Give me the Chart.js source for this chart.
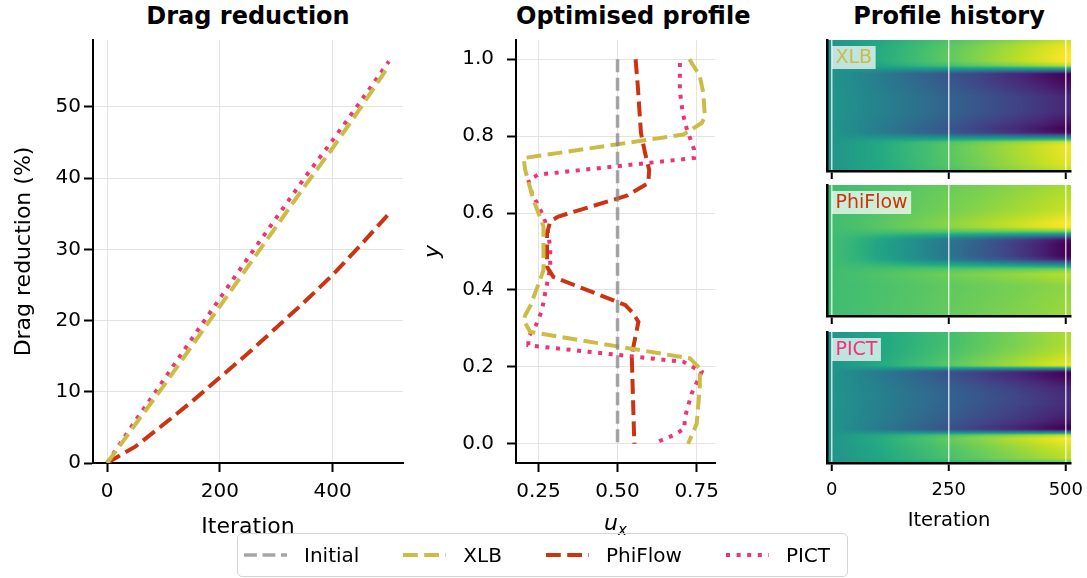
<!DOCTYPE html>
<html>
<head>
<meta charset="utf-8">
<title>Drag reduction and optimised inlet profile</title>
<script src="https://cdn.jsdelivr.net/npm/chart.js@4.4.1/dist/chart.umd.min.js"></script>
<style>
  body { margin: 0; background: #fff; font-family: "DejaVu Sans", sans-serif; color: #000; }
  #fig { position: relative; width: 1087px; height: 578px; overflow: hidden; }
  canvas { position: absolute; }
  .ptitle { position: absolute; top: 1px; font-size: 24px; font-weight: bold; text-align: center; line-height: 30px; white-space: nowrap; }
  #uxLabel { position: absolute; left: 516px; width: 199px; top: 509px; text-align: center; font-size: 22px; font-style: italic; line-height: 28px; }
  #uxLabel sub { font-size: 15px; vertical-align: -5px; }
  #legend { position: absolute; left: 237px; top: 533px; width: 611px; height: 44px; box-sizing: border-box;
            border: 1.5px solid #d4d4d4; border-radius: 5px; display: flex; align-items: center; padding-left: 6px; font-size: 20px; }
  .item { display: flex; align-items: center; margin-right: 44px; }
  .item:last-child { margin-right: 0; }
  .item svg { margin-right: 17px; }
</style>
</head>
<body>
<div id="fig">
  <div class="ptitle" style="left:93px;width:310px">Drag reduction</div>
  <div class="ptitle" style="left:516px;width:199px">Optimised profile</div>
  <div class="ptitle" style="left:827px;width:244px">Profile history</div>
  <canvas id="dragChart" width="420" height="548" style="left:0;top:0"></canvas>
  <canvas id="profileChart" width="320" height="548" style="left:420px;top:0"></canvas>
  <canvas id="histXLB" width="347" height="180" style="left:740px;top:0"></canvas>
  <canvas id="histPhiFlow" width="347" height="145" style="left:740px;top:180px"></canvas>
  <canvas id="histPICT" width="347" height="223" style="left:740px;top:325px"></canvas>
  <div id="uxLabel">u<sub>x</sub></div>
  <div id="legend"></div>
</div>
<script>
// Drag reduction (%) over the optimisation
const iterations = [0, 50, 100, 150, 200, 250, 300, 350, 400, 450, 500];
const dragXLB = [0, 5.4, 10.8, 16.4, 22.0, 27.6, 33.2, 38.8, 44.2, 49.9, 55.8];
const dragPhiFlow = [0, 2.3, 5.4, 8.6, 12.0, 15.4, 19.0, 22.6, 26.4, 30.6, 35.0];
const dragPICT = [0, 5.9, 11.6, 17.4, 23.1, 28.8, 34.4, 40.0, 45.3, 50.8, 56.4];

// Optimised inlet profiles u_x(y), listed from the top wall down
const initialY = [1.0, 0.0];
const initialU = [0.5, 0.5];
const xlbY = [1.0, 0.956, 0.912, 0.851, 0.834, 0.804, 0.743, 0.712, 0.634, 0.600, 0.565, 0.452, 0.426, 0.360, 0.334, 0.321, 0.291, 0.222, 0.196, 0.148, 0.052, 0.0];
const xlbU = [0.727, 0.760, 0.771, 0.776, 0.766, 0.708, 0.203, 0.208, 0.234, 0.250, 0.266, 0.266, 0.255, 0.225, 0.208, 0.203, 0.224, 0.729, 0.760, 0.760, 0.750, 0.723];
const phiflowY = [1.0, 0.930, 0.808, 0.756, 0.712, 0.678, 0.645, 0.591, 0.578, 0.547, 0.460, 0.434, 0.361, 0.339, 0.317, 0.252, 0.226, 0.0];
const phiflowU = [0.557, 0.564, 0.574, 0.587, 0.600, 0.597, 0.529, 0.313, 0.287, 0.277, 0.277, 0.297, 0.524, 0.550, 0.566, 0.550, 0.545, 0.553];
const pictY = [0.99, 0.951, 0.917, 0.860, 0.821, 0.795, 0.765, 0.743, 0.700, 0.686, 0.652, 0.600, 0.565, 0.512, 0.456, 0.391, 0.347, 0.304, 0.278, 0.256, 0.213, 0.187, 0.130, 0.069, 0.039, 0.022, 0.0];
const pictU = [0.697, 0.697, 0.697, 0.706, 0.718, 0.729, 0.742, 0.742, 0.250, 0.218, 0.229, 0.261, 0.277, 0.287, 0.287, 0.271, 0.261, 0.240, 0.218, 0.218, 0.708, 0.766, 0.734, 0.713, 0.711, 0.676, 0.613];

// Axis ticks
const dragXTicks = [0, 200, 400];
const dragYTicks = [0, 10, 20, 30, 40, 50];
const profileXTicks = [0.25, 0.5, 0.75];
const profileYTicks = [0, 0.2, 0.4, 0.6, 0.8, 1.0];
const historyXTicks = [0, 250, 500];

// Series styling
const seriesNames = ['Initial', 'XLB', 'PhiFlow', 'PICT'];
const seriesColors = ['rgba(128,128,128,0.7)', '#CCBB44', '#CC3311', '#EE3377'];
const seriesDash = [[12.9, 5.6], [14.8, 6.4], [14.8, 6.4], [4, 6.6]];
const seriesWidth = [3.5, 4, 4, 4];

Chart.defaults.font.family = "'DejaVu Sans', sans-serif";
Chart.defaults.color = '#000';

const gridGray = '#e3e3e3';

function lineStyle(i) {
  return {
    label: seriesNames[i],
    borderColor: seriesColors[i],
    borderDash: seriesDash[i],
    borderWidth: seriesWidth[i],
    borderCapStyle: 'butt',
    pointRadius: 0,
    fill: false,
    tension: 0
  };
}

function pairs(xs, ys) {
  return xs.map((v, i) => ({ x: v, y: ys[i] }));
}

// put ticks exactly at the listed values
function fixedTicks(values) {
  return s => { s.ticks = values.map(v => ({ value: v })); };
}

// ---- Drag reduction ----
new Chart(document.getElementById('dragChart'), {
  type: 'line',
  data: {
    datasets: [
      Object.assign(lineStyle(1), { data: pairs(iterations, dragXLB) }),
      Object.assign(lineStyle(2), { data: pairs(iterations, dragPhiFlow) }),
      Object.assign(lineStyle(3), { data: pairs(iterations, dragPICT) })
    ]
  },
  options: {
    responsive: false,
    animation: false,
    layout: { padding: { top: 40, right: 17, left: 0, bottom: 0 } },
    plugins: { legend: { display: false }, tooltip: { enabled: false } },
    scales: {
      x: {
        type: 'linear', min: -25, max: 525,
        afterBuildTicks: fixedTicks(dragXTicks),
        ticks: { padding: 8, maxRotation: 0, font: { size: 20 } },
        grid: { color: gridGray, tickColor: '#000', tickLength: 9, tickWidth: 2 },
        border: { color: '#000', width: 2 },
        title: { display: true, text: 'Iteration', font: { size: 22 }, padding: { top: 0, bottom: 8 } },
        afterFit: s => { s.height = 85; }
      },
      y: {
        type: 'linear', min: 0, max: 59.4,
        afterBuildTicks: fixedTicks(dragYTicks),
        ticks: { padding: 3, font: { size: 20 } },
        grid: { color: gridGray, tickColor: '#000', tickLength: 9, tickWidth: 2 },
        border: { color: '#000', width: 2 },
        title: { display: true, text: 'Drag reduction (%)', font: { size: 22 }, padding: { top: 11, bottom: 0 } },
        afterFit: s => { s.width = 93; }
      }
    }
  }
});

// ---- Optimised profile ----
new Chart(document.getElementById('profileChart'), {
  type: 'line',
  data: {
    datasets: [
      Object.assign(lineStyle(0), { data: pairs(initialU, initialY) }),
      Object.assign(lineStyle(1), { data: pairs(xlbU, xlbY) }),
      Object.assign(lineStyle(2), { data: pairs(phiflowU, phiflowY) }),
      Object.assign(lineStyle(3), { data: pairs(pictU, pictY) })
    ]
  },
  options: {
    responsive: false,
    animation: false,
    layout: { padding: { top: 40, right: 25, left: 0, bottom: 0 } },
    plugins: { legend: { display: false }, tooltip: { enabled: false } },
    scales: {
      x: {
        type: 'linear', min: 0.179, max: 0.808,
        afterBuildTicks: fixedTicks(profileXTicks),
        ticks: { padding: 8, maxRotation: 0, font: { size: 20 }, callback: v => v.toFixed(2) },
        grid: { color: gridGray, tickColor: '#000', tickLength: 9, tickWidth: 2 },
        border: { color: '#000', width: 2 },
        afterFit: s => { s.height = 85; }
      },
      y: {
        type: 'linear', min: -0.05, max: 1.05,
        afterBuildTicks: fixedTicks(profileYTicks),
        ticks: { padding: 13, font: { size: 20 }, callback: v => v.toFixed(1) },
        grid: { color: gridGray, tickColor: '#000', tickLength: 9, tickWidth: 2 },
        border: { color: '#000', width: 2 },
        title: { display: true, text: 'y', font: { size: 22, style: 'italic' }, padding: { top: 0, bottom: 0 } },
        afterFit: s => { s.width = 96; }
      }
    }
  }
});

// ---- Profile history heatmaps ----
const viridisStops = [[68, 1, 84], [72, 36, 117], [65, 68, 135], [53, 95, 141], [42, 120, 142], [33, 145, 140],
                      [34, 168, 132], [68, 191, 112], [122, 209, 81], [189, 223, 38], [253, 231, 37]];

function viridis(t) {
  t = Math.min(1, Math.max(0, t));
  const f = t * 10, i = Math.min(9, Math.floor(f)), r = f - i;
  const a = viridisStops[i], b = viridisStops[i + 1];
  return [0, 1, 2].map(k => Math.round(a[k] + (b[k] - a[k]) * r));
}

// value of a profile at height y (knots listed top to bottom)
function profileAt(ys, us, y) {
  if (y >= ys[0]) return us[0];
  for (let i = 0; i < ys.length - 1; i++) {
    if (y <= ys[i] && y >= ys[i + 1]) {
      const t = (ys[i] - y) / (ys[i] - ys[i + 1]);
      return us[i] + (us[i + 1] - us[i]) * t;
    }
  }
  return us[us.length - 1];
}

// one column per logged iteration: the initial profile moves toward the optimised one
// by the share of the final drag reduction reached at that iteration
function historyImage(ys, us, drag) {
  const rows = 160, cols = drag.length;
  const final = drag[cols - 1];
  const u0 = initialU[0];
  const vals = [];
  let lo = Infinity, hi = -Infinity;
  for (let r = 0; r < rows; r++) {
    const y = 1 - (r + 0.5) / rows;
    const u = profileAt(ys, us, y);
    for (let c = 0; c < cols; c++) {
      const v = u0 + (u - u0) * (drag[c] / final);
      vals.push(v);
      lo = Math.min(lo, v); hi = Math.max(hi, v);
    }
  }
  const cv = document.createElement('canvas');
  cv.width = cols; cv.height = rows;
  const cx = cv.getContext('2d');
  const im = cx.createImageData(cols, rows);
  vals.forEach((v, i) => {
    const [r, g, b] = viridis((v - lo) / (hi - lo));
    im.data[i * 4] = r; im.data[i * 4 + 1] = g; im.data[i * 4 + 2] = b; im.data[i * 4 + 3] = 255;
  });
  cx.putImageData(im, 0, 0);
  return cv;
}

function historyChart(id, idx, ys, us, drag, last) {
  const img = historyImage(ys, us, drag);
  const half = (iterations[1] - iterations[0]) / 2;
  const shade = {
    id: 'historyShade',
    beforeDraw(chart) {
      const { ctx, chartArea: a, scales: { x, y } } = chart;
      ctx.save();
      ctx.beginPath();
      ctx.rect(a.left, a.top, a.right - a.left, a.bottom - a.top);
      ctx.clip();
      ctx.imageSmoothingEnabled = true;
      const x0 = x.getPixelForValue(iterations[0] - half);
      const x1 = x.getPixelForValue(iterations[iterations.length - 1] + half);
      const y0 = y.getPixelForValue(1), y1 = y.getPixelForValue(0);
      ctx.drawImage(img, x0, y0, x1 - x0, y1 - y0);
      ctx.restore();
    },
    afterDraw(chart) {
      const { ctx, chartArea: a } = chart;
      const name = seriesNames[idx];
      ctx.save();
      ctx.font = "19px 'DejaVu Sans'";
      const w = ctx.measureText(name).width;
      ctx.fillStyle = 'rgba(255,255,255,0.72)';
      ctx.fillRect(a.left + 5, a.top + 6, w + 7, 23);
      ctx.fillStyle = seriesColors[idx];
      ctx.textBaseline = 'middle';
      ctx.fillText(name, a.left + 8.5, a.top + 18);
      ctx.restore();
    }
  };
  const canvas = document.getElementById(id);
  const pad = { XLB: 40, PhiFlow: 5, PICT: 7 }[seriesNames[idx]];
  return new Chart(canvas, {
    type: 'scatter',
    data: { datasets: [] },
    plugins: [shade],
    options: {
      responsive: false,
      animation: false,
      layout: { padding: { top: pad, right: 16, left: 0, bottom: 0 } },
      plugins: { legend: { display: false }, tooltip: { enabled: false } },
      scales: {
        x: {
          type: 'linear', min: -10, max: 511,
          afterBuildTicks: fixedTicks(historyXTicks),
          ticks: { display: last, padding: 9, maxRotation: 0, font: { size: 18 } },
          grid: { color: 'rgba(255,255,255,0.75)', lineWidth: 1.5, tickColor: '#000', tickLength: 8, tickWidth: 2 },
          border: { color: '#000', width: 2.5 },
          title: { display: last, text: 'Iteration', font: { size: 19.5 }, padding: { top: 0, bottom: 15 } },
          afterFit: s => { s.height = last ? 85 : 9; s.paddingLeft = 0; s.paddingRight = 0; }
        },
        y: {
          type: 'linear', min: 0, max: 1,
          ticks: { display: false },
          grid: { display: false },
          border: { color: '#000', width: 2.5 },
          afterFit: s => { s.width = 87; }
        }
      }
    }
  });
}

historyChart('histXLB', 1, xlbY, xlbU, dragXLB, false);
historyChart('histPhiFlow', 2, phiflowY, phiflowU, dragPhiFlow, false);
historyChart('histPICT', 3, pictY, pictU, dragPICT, true);

// ---- Shared legend ----
const legend = document.getElementById('legend');
seriesNames.forEach((name, i) => {
  const item = document.createElement('span');
  item.className = 'item';
  item.innerHTML = '<svg width="43" height="10"><line x1="0" y1="5" x2="43" y2="5" stroke="' + seriesColors[i] +
    '" stroke-width="' + seriesWidth[i] + '" stroke-dasharray="' + seriesDash[i].join(' ') + '"/></svg><span>' + name + '</span>';
  legend.appendChild(item);
});
</script>
</body>
</html>
